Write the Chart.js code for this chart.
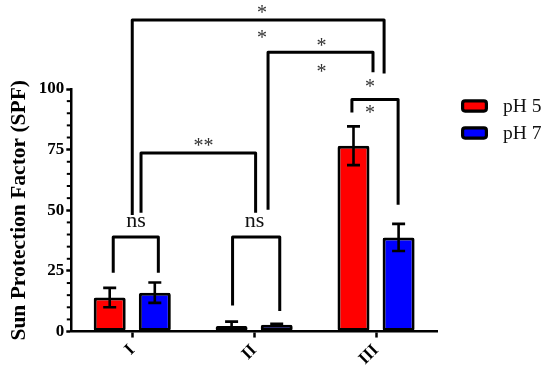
<!DOCTYPE html>
<html><head><meta charset="utf-8">
<script src="https://cdn.jsdelivr.net/npm/chart.js@4/dist/chart.umd.min.js"></script>
<style>html,body{margin:0;padding:0;background:#fff}</style>
</head><body>
<canvas id="c" width="550" height="373"></canvas>
<script>
// ---- data ----
const categories = ['I', 'II', 'III'];
const seriesNames = ['pH 5', 'pH 7'];
const ph5 = [14, 2.3, 76.6];
const ph7 = [16, 2.8, 38.8];
const ph5Err = [4, 1.8, 8];
const ph7Err = [4.2, 0.4, 5.6];
const yTicks = [0, 25, 50, 75, 100];
const yMinorStep = 5;
// significance brackets: [xStart, xEnd (category index), top value, left leg bottom, right leg bottom]
const brackets = [
  [0.0, 2.066, 128.4, 48.1, 106.4],
  [1.114, 1.975, 115.2, 50.2, 106.9],
  [1.802, 2.181, 95.7, 90.3, 52.3],
  [0.072, 1.012, 73.6, 49, 49],
  [-0.156, 0.214, 39, 24.2, 24.2],
  [0.823, 1.21, 39, 10.7, 8.5]
];
// significance labels: [text, x (category index), y value]
const sigLabels = [
  ['*', 1.064, 132.9], ['*', 1.064, 122.5],
  ['*', 1.553, 119.5], ['*', 1.553, 108.8],
  ['*', 1.951, 102.3], ['*', 1.951, 91.8],
  ['**', 0.584, 78.2],
  ['ns', 0.03, 45.2], ['ns', 1.004, 45.2]
];
const colors = ['#ff0000', '#0000ff'];
const errs = [ph5Err, ph7Err];

const SERIF = '"Liberation Serif", "Times New Roman", serif';

const extras = {
  id: 'extras',
  afterDraw(chart) {
    const ctx = chart.ctx;
    const xs = chart.scales.x, ys = chart.scales.y;
    const area = chart.chartArea;
    ctx.save();
    // minor y ticks
    ctx.strokeStyle = '#000';
    ctx.lineWidth = 2;
    for (let v = ys.min + yMinorStep; v < ys.max; v += yMinorStep) {
      if (yTicks.includes(v)) continue;
      const py = ys.getPixelForValue(v);
      ctx.beginPath();
      ctx.moveTo(area.left - 4.5, py);
      ctx.lineTo(area.left, py);
      ctx.stroke();
    }
    // error bars
    ctx.lineWidth = 2.6;
    chart.data.datasets.forEach((ds, i) => {
      const meta = chart.getDatasetMeta(i);
      meta.data.forEach((el, j) => {
        const v = ds.data[j], e = errs[i][j];
        const x = el.x;
        const yt = ys.getPixelForValue(v + e);
        const yb = ys.getPixelForValue(v - e);
        const cw = 6.5;
        ctx.beginPath();
        ctx.moveTo(x, yt); ctx.lineTo(x, yb);
        ctx.moveTo(x - cw, yt); ctx.lineTo(x + cw, yt);
        ctx.moveTo(x - cw, yb); ctx.lineTo(x + cw, yb);
        ctx.stroke();
      });
    });
    // brackets
    ctx.lineWidth = 3;
    ctx.lineJoin = 'round';
    brackets.forEach(b => {
      const xa = xs.getPixelForValue(b[0]), xb = xs.getPixelForValue(b[1]);
      const yt = ys.getPixelForValue(b[2]);
      ctx.beginPath();
      ctx.moveTo(xa, ys.getPixelForValue(b[3]));
      ctx.lineTo(xa, yt);
      ctx.lineTo(xb, yt);
      ctx.lineTo(xb, ys.getPixelForValue(b[4]));
      ctx.stroke();
    });
    // labels
    ctx.textAlign = 'center';
    ctx.textBaseline = 'alphabetic';
    sigLabels.forEach(l => {
      const px = xs.getPixelForValue(l[1]);
      const py = ys.getPixelForValue(l[2]);
      if (l[0] === 'ns') {
        ctx.font = '22px ' + SERIF;
        ctx.fillStyle = '#111';
        ctx.fillText(l[0], px, py + 0.23 * 22);
      } else {
        ctx.font = '20px ' + SERIF;
        ctx.fillStyle = '#333';
        ctx.fillText(l[0], px, py + 0.5 * 20);
      }
    });
    // legend
    const lx = 461, ly0 = 106, step = 27;
    chart.data.datasets.forEach((ds, i) => {
      const cy = ly0 + i * step;
      ctx.beginPath();
      ctx.lineWidth = 3.2;
      ctx.strokeStyle = '#000';
      ctx.fillStyle = ds.backgroundColor;
      if (ctx.roundRect) ctx.roundRect(lx + 1.6, cy - 5.1, 23.8, 10.2, 2.5);
      else ctx.rect(lx + 1.6, cy - 5.1, 23.8, 10.2);
      ctx.fill();
      ctx.stroke();
      ctx.fillStyle = '#111';
      ctx.font = '19.5px ' + SERIF;
      ctx.textAlign = 'left';
      ctx.textBaseline = 'middle';
      ctx.fillText(ds.label, 503, cy + 1);
    });
    ctx.restore();
  }
};

new Chart(document.getElementById('c'), {
  type: 'bar',
  data: {
    labels: categories,
    datasets: [
      { label: seriesNames[0], data: ph5, backgroundColor: colors[0], borderColor: '#000', borderWidth: 3, borderSkipped: false, borderRadius: 2 },
      { label: seriesNames[1], data: ph7, backgroundColor: colors[1], borderColor: '#000', borderWidth: 3, borderSkipped: false, borderRadius: 2 }
    ]
  },
  options: {
    responsive: false,
    animation: false,
    devicePixelRatio: 1,
    layout: { padding: { top: 89, left: 5, right: 113, bottom: 1 } },
    datasets: { bar: { categoryPercentage: 0.74, barPercentage: 0.71 } },
    plugins: { legend: { display: false }, tooltip: { enabled: false } },
    scales: {
      x: {
        grid: { display: true, drawOnChartArea: false, offset: false, tickLength: 6, tickWidth: 2.5, tickColor: '#000' },
        border: { color: '#000', width: 2.5 },
        ticks: { font: { family: SERIF, weight: 'bold', size: 17 }, color: '#000', minRotation: 45, maxRotation: 45, padding: 3 }
      },
      y: {
        min: 0, max: 100,
        afterBuildTicks: s => { s.ticks = yTicks.map(v => ({ value: v })); },
        grid: { drawOnChartArea: false, tickLength: 5, tickWidth: 2.5, tickColor: '#000' },
        border: { color: '#000', width: 2.5 },
        ticks: { font: { family: SERIF, weight: 'bold', size: 17 }, color: '#000', padding: 2 },
        title: { display: true, text: 'Sun Protection Factor (SPF)', color: '#000', font: { family: SERIF, weight: 'bold', size: 21.5 }, padding: { top: 2, bottom: 4 } }
      }
    }
  },
  plugins: [extras]
});
</script>
</body></html>
